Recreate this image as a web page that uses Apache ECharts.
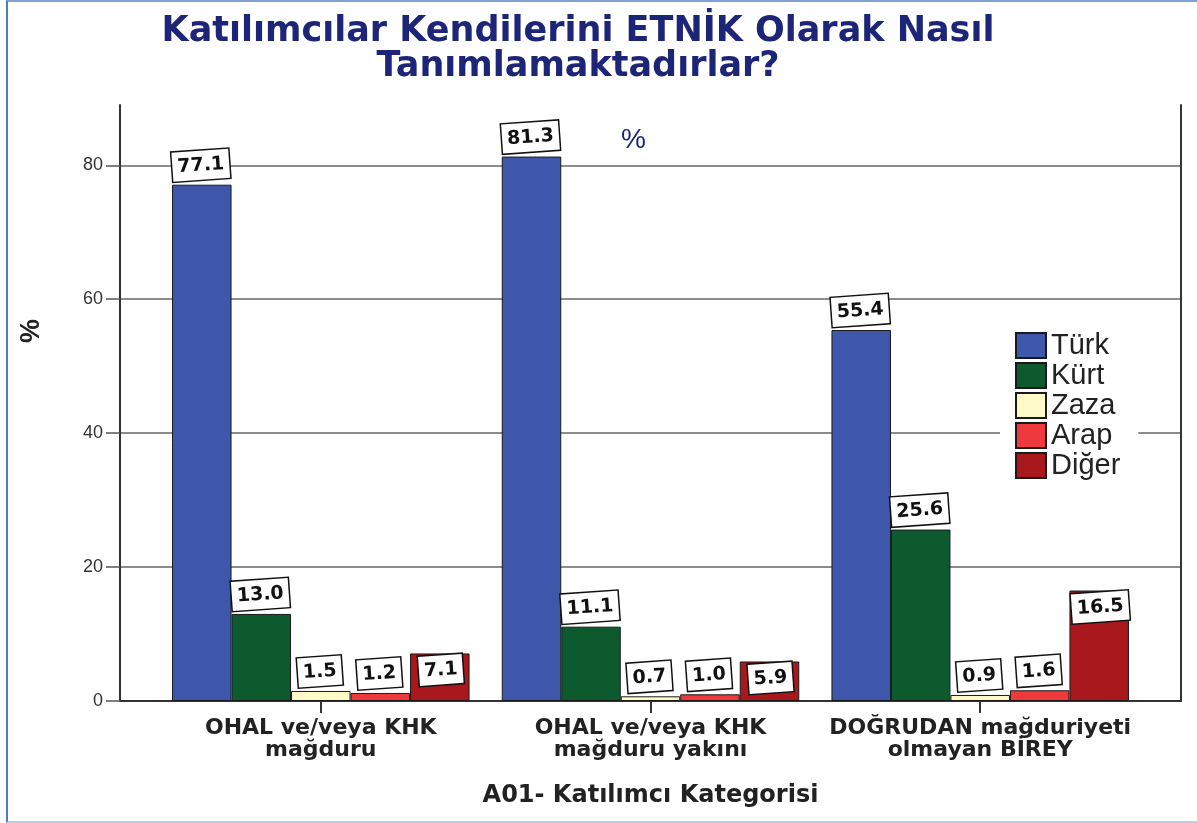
<!DOCTYPE html>
<html>
<head>
<meta charset="utf-8">
<script src="https://cdn.jsdelivr.net/npm/echarts@6/dist/echarts.min.js"></script>
<style>
  html, body { margin: 0; padding: 0; background: #fff; }
  #frame {
    position: absolute; left: 6px; top: 0; width: 1191px; height: 823px;
    box-sizing: border-box;
    border-left: 2px solid #4a7bc4;
    border-top: 2px solid #7fa1d4;
    border-bottom: 2px solid #b9cce6;
  }
  #chart { position: absolute; left: 0; top: 0; width: 1197px; height: 823px; }
</style>
</head>
<body>
<div id="frame"></div>
<div id="chart"></div>
<script>
// categories (x axis)
const categories = [
  'OHAL ve/veya KHK\nmağduru',
  'OHAL ve/veya KHK\nmağduru yakını',
  'DOĞRUDAN mağduriyeti\nolmayan BİREY'
];
// ethnic groups (series)
const groupNames = ['Türk', 'Kürt', 'Zaza', 'Arap', 'Diğer'];
const turk  = [77.1, 81.3, 55.4];
const kurt  = [13.0, 11.1, 25.6];
const zaza  = [1.5, 0.7, 0.9];
const arap  = [1.2, 1.0, 1.6];
const diger = [7.1, 5.9, 16.5];
const seriesValues = [turk, kurt, zaza, arap, diger];
const yTicks = [0, 20, 40, 60, 80];
const colors = ['#3f57ab', '#0c5a2d', '#fffbc8', '#ee3a3c', '#a8181d'];

// category positions on the x scale (1, 2, 3)
const catPos = categories.map((c, i) => i + 1);

const chart = echarts.init(document.getElementById('chart'));

const labelBox = {
  show: true,
  position: 'top',
  distance: 5,
  rotate: 4,
  formatter: p => p.value[1].toFixed(1),
  fontFamily: 'DejaVu Sans',
  fontWeight: 'bold',
  fontSize: 19,
  lineHeight: 20,
  color: '#111',
  backgroundColor: '#fff',
  borderColor: '#111',
  borderWidth: 1.5,
  padding: [5, 5, 4, 5]
};

const option = {
  backgroundColor: 'transparent',
  animation: false,
  title: {
    text: 'Katılımcılar Kendilerini ETNİK Olarak Nasıl\nTanımlamaktadırlar?',
    left: 573,
    textAlign: 'center',
    top: 9,
    textStyle: {
      fontFamily: 'DejaVu Sans',
      fontWeight: 'bold',
      fontSize: 35,
      lineHeight: 35,
      color: '#1d2578'
    }
  },
  graphic: [{
    type: 'text',
    left: 621,
    top: 126,
    style: { text: '%', font: '28px Liberation Sans, Arial', fill: '#1d2578' }
  }, {
    type: 'text',
    x: 32,
    y: 331,
    rotation: Math.PI / 2,
    style: {
      text: '%',
      font: 'bold 27px Liberation Sans, Arial',
      fill: '#222',
      align: 'center',
      verticalAlign: 'middle'
    }
  }],
  legend: {
    data: groupNames,
    orient: 'vertical',
    left: 1000,
    top: 326,
    padding: [5, 18, 5, 15],
    backgroundColor: '#fff',
    itemWidth: 30,
    itemHeight: 25,
    itemGap: 1,
    icon: 'rect',
    textStyle: { fontFamily: 'Liberation Sans, Arial', fontSize: 29, color: '#222' }
  },
  grid: { left: 120, right: 16, top: 105, bottom: 122 },
  xAxis: {
    type: 'value',
    min: 0.391,
    max: 3.609,
    axisLine: { show: true, onZero: false, lineStyle: { color: '#333', width: 2 } },
    axisTick: { show: true, customValues: catPos, length: 12, lineStyle: { color: '#333', width: 2 } },
    axisLabel: {
      customValues: catPos,
      formatter: v => categories[Math.round(v) - 1],
      margin: 16,
      fontFamily: 'DejaVu Sans',
      fontWeight: 'bold',
      fontSize: 22,
      lineHeight: 22,
      color: '#222'
    },
    splitLine: { show: false },
    name: 'A01- Katılımcı Kategorisi',
    nameLocation: 'middle',
    nameGap: 83,
    nameTextStyle: { fontFamily: 'DejaVu Sans', fontWeight: 'bold', fontSize: 24, color: '#222' }
  },
  yAxis: [{
    type: 'value',
    min: 0,
    max: 89,
    axisLine: { show: true, lineStyle: { color: '#333', width: 2 } },
    axisTick: { show: true, customValues: yTicks, length: 14, lineStyle: { color: '#555', width: 1.5 } },
    axisLabel: {
      customValues: yTicks,
      margin: 17,
      fontFamily: 'Liberation Sans, Arial',
      fontSize: 18,
      color: '#333'
    },
    splitLine: { show: true, lineStyle: { color: '#666', width: 1.5 } }
  }, {
    type: 'value',
    position: 'right',
    min: 0,
    max: 89,
    axisLine: { show: true, lineStyle: { color: '#333', width: 2 } },
    axisTick: { show: false },
    axisLabel: { show: false },
    splitLine: { show: false }
  }],
  series: seriesValues.map((vals, i) => ({
    name: groupNames[i],
    type: 'bar',
    data: vals.map((v, j) => [catPos[j], v]),
    barWidth: 59.5,
    barGap: '0%',
    itemStyle: { color: colors[i], borderColor: '#1a1a1a', borderWidth: 1 },
    label: i === 4 ? Object.assign({}, labelBox, { position: 'insideTop', distance: 2 }) : labelBox
  }))
};

chart.setOption(option);
</script>
</body>
</html>
